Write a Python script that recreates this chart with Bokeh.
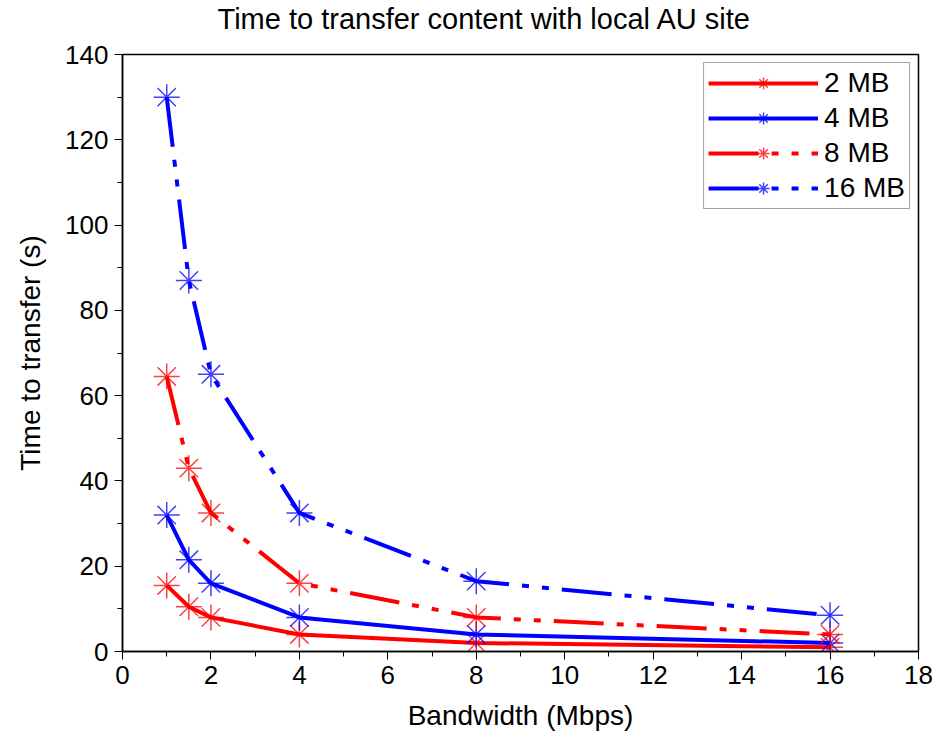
from bokeh.plotting import figure
from bokeh.models import Range1d, SingleIntervalTicker, Legend, LegendItem
from bokeh.embed import file_html
from bokeh.resources import INLINE

bandwidth = [1, 1.5, 2, 4, 8, 16]
t_2mb = [15.5, 10.5, 8, 4, 2, 1]
t_4mb = [32, 21.5, 16, 8, 4, 2]
t_8mb = [64.5, 43, 32.5, 16, 8, 4]
t_16mb = [130, 87, 65, 32.5, 16.5, 8.5]
series_names = ["2 MB", "4 MB", "8 MB", "16 MB"]

FONT = "Liberation Sans"

p = figure(width=941, height=741, output_backend="svg", toolbar_location=None,
           x_range=Range1d(0, 18), y_range=Range1d(0, 140),
           min_border_left=122, min_border_right=23, min_border_top=54, min_border_bottom=90)
p.title.text = "Time to transfer content with local AU site"
p.title.align = "left"
p.title.offset = 95
p.title.standoff = 0
p.title.padding = dict(bottom=20)
p.title.text_font = FONT
p.title.text_font_size = "29px"
p.title.text_font_style = "normal"
p.title.text_color = "black"

p.xgrid.visible = False
p.ygrid.visible = False
p.outline_line_color = "black"
p.outline_line_width = 1.5
p.outline_line_alpha = 1

p.xaxis.ticker = SingleIntervalTicker(interval=2, num_minor_ticks=2)
p.yaxis.ticker = SingleIntervalTicker(interval=20, num_minor_ticks=2)
for ax in (p.xaxis[0], p.yaxis[0]):
    ax.major_tick_in = 0
    ax.major_tick_out = 8
    ax.minor_tick_in = 0
    ax.minor_tick_out = 5
    ax.axis_line_color = "black"
    ax.axis_line_width = 1.5
    ax.major_tick_line_color = "black"
    ax.minor_tick_line_color = "black"
    ax.major_label_text_font = FONT
    ax.major_label_text_font_size = "26px"
    ax.major_label_text_color = "black"
    ax.axis_label_text_font = FONT
    ax.axis_label_text_font_size = "28px"
    ax.axis_label_text_font_style = "normal"
    ax.axis_label_text_color = "black"
p.xaxis.axis_label = "Bandwidth (Mbps)"
p.yaxis.axis_label = "Time to transfer (s)"
p.xaxis.major_label_standoff = 6
p.yaxis.major_label_standoff = 6
p.xaxis.axis_label_standoff = 13
p.yaxis.axis_label_standoff = 16

styles = [
    (t_2mb, "#ff0000", "solid"),
    (t_4mb, "#0000ff", "solid"),
    (t_8mb, "#ff0000", "50 13 7 13 7 13"),
    (t_16mb, "#0000ff", "50 13 7 13 7 13"),
]
items = []
for name, (ys, col, dash) in zip(series_names, styles):
    ln = p.line(bandwidth, ys, line_color=col, line_width=4, line_dash=dash)
    sc = p.scatter(bandwidth, ys, marker="asterisk", size=26, line_color=col,
                   line_alpha=0.75, line_width=1.5)
    items.append(LegendItem(label=name, renderers=[ln, sc]))

legend = Legend(items=items, location="top_right")
legend.label_text_font = FONT
legend.label_text_font_size = "28px"
legend.label_text_color = "black"
legend.label_height = 30
legend.glyph_width = 110
legend.glyph_height = 30
legend.spacing = 3
legend.padding = 4
legend.margin = 8
legend.label_standoff = 6
legend.border_line_color = "#444444"
legend.border_line_width = 1.5
legend.background_fill_alpha = 1
p.add_layout(legend)

open("out.html", "w").write(file_html(p, INLINE))
